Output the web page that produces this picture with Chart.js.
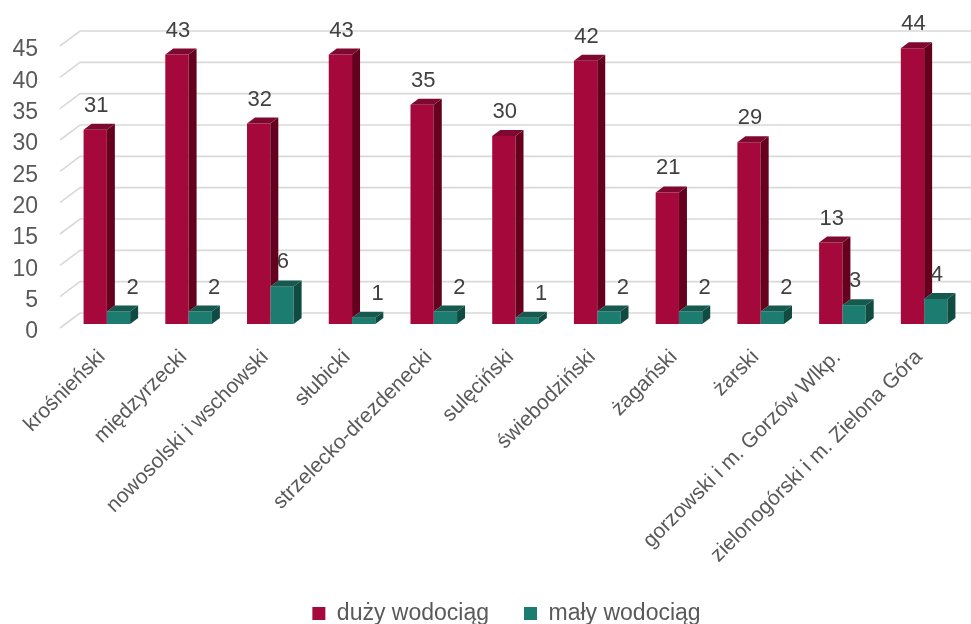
<!DOCTYPE html>
<html>
<head>
<meta charset="utf-8">
<script src="https://cdn.jsdelivr.net/npm/chart.js@4.4.0/dist/chart.umd.min.js"></script>
<style>
    html, body { margin: 0; padding: 0; background: #fff; }
    #wrap { width: 971px; height: 624px; }
</style>
</head>
<body>
<div id="wrap"><canvas id="wodociagi-chart" width="971" height="624"></canvas></div>
<script>
const powiaty = [
    'krośnieński',
    'międzyrzecki',
    'nowosolski i wschowski',
    'słubicki',
    'strzelecko-drezdenecki',
    'sulęciński',
    'świebodziński',
    'żagański',
    'żarski',
    'gorzowski i m. Gorzów Wlkp.',
    'zielonogórski i m. Zielona Góra',
];
const duzyWodociag = [31, 43, 32, 43, 35, 30, 42, 21, 29, 13, 44];
const malyWodociag = [2, 2, 6, 1, 2, 1, 2, 2, 2, 3, 4];
const yMax = 45;
const yStep = 5;

// depth of the fake 3d columns / walls
const DX = 8;
const DY = 6;

Chart.defaults.font.family = "'Liberation Sans', Arial, sans-serif";

// back wall lines + the slanted side lines on the left
const wallGrid = {
    id: 'wallGrid',
    beforeDatasetsDraw(chart) {
        const { ctx, chartArea } = chart;
        const y = chart.scales.y;
        ctx.save();
        ctx.strokeStyle = '#d9d9d9';
        ctx.lineWidth = 1.6;
        y.ticks.forEach((t) => {
            const py = y.getPixelForValue(t.value);
            ctx.beginPath();
            ctx.moveTo(chartArea.left - 6, py + 4);
            ctx.lineTo(chartArea.left + 14, py - 11);
            ctx.lineTo(chart.width, py - 11);
            ctx.stroke();
        });
        ctx.restore();
    },
};

// side and top faces, drawn right after each dataset's front faces.
// green is drawn before red, so a red side stops at the green column's top
const columns3d = {
    id: 'columns3d',
    afterDatasetDraw(chart, args) {
        const ds = chart.data.datasets[args.index];
        const next = chart.getDatasetMeta(args.index + 1);
        const ctx = chart.ctx;
        ctx.save();
        args.meta.data.forEach((bar, j) => {
            const { x, y, base, width } = bar.getProps(['x', 'y', 'base', 'width'], true);
            const l = x - width / 2;
            const r = x + width / 2;
            let bottom = base;
            if (next && next.data && next.data[j]) {
                bottom = Math.min(base, next.data[j].y);
            }
            ctx.fillStyle = ds.sideColor;
            ctx.beginPath();
            ctx.moveTo(r, y);
            ctx.lineTo(r + DX, y - DY);
            ctx.lineTo(r + DX, bottom - DY);
            ctx.lineTo(r, bottom);
            ctx.closePath();
            ctx.fill();
            ctx.fillStyle = ds.topColor;
            ctx.beginPath();
            ctx.moveTo(l, y);
            ctx.lineTo(l + DX, y - DY);
            ctx.lineTo(r + DX, y - DY);
            ctx.lineTo(r, y);
            ctx.closePath();
            ctx.fill();
        });
        ctx.restore();
    },
};

// value labels above columns
const valueLabels = {
    id: 'valueLabels',
    afterDatasetsDraw(chart) {
        const ctx = chart.ctx;
        ctx.save();
        ctx.font = "22px 'Liberation Sans', Arial, sans-serif";
        ctx.fillStyle = '#404040';
        ctx.textAlign = 'center';
        ctx.textBaseline = 'middle';
        chart.data.datasets.forEach((ds, i) => {
            chart.getDatasetMeta(i).data.forEach((bar, j) => {
                const v = ds.data[j];
                // short green columns get their label pushed off the red column's side
                const shift = i === 1 && v <= 2 ? 14 : 1;
                ctx.fillText(String(v), bar.x + shift, bar.y - 24);
            });
        });
        ctx.restore();
    },
};

// nudge the legend right and give it a little more room on top
const legendNudge = {
    id: 'legendNudge',
    afterLayout(chart) {
        const lg = chart.legend;
        if (!lg) return;
        lg.left += 24;
        lg.right += 24;
        lg.top -= 18;
    },
};

const config = {
    type: 'bar',
    data: {
        labels: powiaty,
        datasets: [
            {
                label: 'duży wodociąg',
                data: duzyWodociag,
                backgroundColor: '#a5093c',
                sideColor: '#66001f',
                topColor: '#7e0830',
            },
            {
                label: 'mały wodociąg',
                data: malyWodociag,
                backgroundColor: '#1c7c6f',
                sideColor: '#104b42',
                topColor: '#15594f',
            },
        ],
    },
    options: {
        responsive: false,
        animation: false,
        barPercentage: 1,
        categoryPercentage: 0.57,
        layout: {
            padding: { top: 42, right: 6, left: 0, bottom: 0 },
        },
        plugins: {
            legend: {
                position: 'bottom',
                maxHeight: 39,
                labels: {
                    boxWidth: 13,
                    boxHeight: 13,
                    color: '#595959',
                    font: { size: 23 },
                    padding: 35,
                },
            },
            tooltip: { enabled: false },
        },
        scales: {
            x: {
                offset: true,
                grid: { display: false },
                border: { display: false },
                ticks: {
                    autoSkip: false,
                    minRotation: 45,
                    maxRotation: 45,
                    color: '#595959',
                    font: { size: 21 },
                    labelOffset: -5,
                    padding: 13,
                },
                afterFit(scale) {
                    scale.height = 261;
                },
            },
            y: {
                min: 0,
                max: yMax,
                grid: { display: false },
                border: { display: false },
                ticks: {
                    stepSize: yStep,
                    color: '#595959',
                    font: { size: 23 },
                    padding: 20,
                    labelOffset: 8,
                },
                afterFit(scale) {
                    scale.width = 66;
                },
            },
        },
    },
    plugins: [wallGrid, columns3d, valueLabels, legendNudge],
};

new Chart(document.getElementById('wodociagi-chart'), config);
</script>
</body>
</html>
